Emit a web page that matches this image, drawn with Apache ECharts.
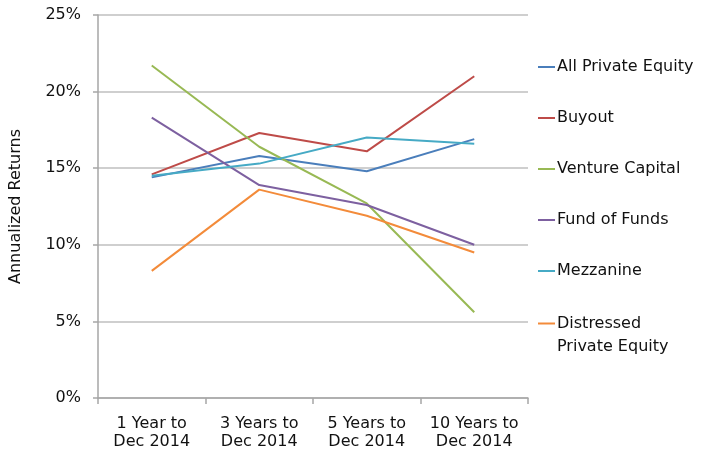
<!DOCTYPE html>
<html>
<head>
<meta charset="utf-8">
<script src="https://cdn.jsdelivr.net/npm/echarts@6/dist/echarts.min.js"></script>
<style>
  html, body { margin: 0; padding: 0; background: #fff; }
  #chart { width: 702px; height: 457px; }
</style>
</head>
<body>
<div id="chart"></div>
<script>
// horizons and annualized returns (%)
const categories = ["1 Year to\nDec 2014", "3 Years to\nDec 2014", "5 Years to\nDec 2014", "10 Years to\nDec 2014"];
const allPrivateEquity = [14.4, 15.8, 14.8, 16.9];
const buyout = [14.6, 17.3, 16.1, 21.0];
const ventureCapital = [21.7, 16.4, 12.7, 5.6];
const fundOfFunds = [18.3, 13.9, 12.6, 10.0];
const mezzanine = [14.5, 15.3, 17.0, 16.6];
const distressed = [8.3, 13.6, 11.9, 9.5];
const yTicks = [0, 5, 10, 15, 20, 25];

const font = "'DejaVu Sans', sans-serif";
const seriesDefs = [
  { name: "All Private Equity", data: allPrivateEquity, color: "#4A7EBB" },
  { name: "Buyout", data: buyout, color: "#BE4B48" },
  { name: "Venture Capital", data: ventureCapital, color: "#98B954" },
  { name: "Fund of Funds", data: fundOfFunds, color: "#7D60A0" },
  { name: "Mezzanine", data: mezzanine, color: "#46AAC5" },
  { name: "Distressed\nPrivate Equity", data: distressed, color: "#F38B3A" },
];

const chart = echarts.init(document.getElementById("chart"), null, { renderer: "canvas" });
chart.setOption({
  animation: false,
  backgroundColor: "#fff",
  textStyle: { fontFamily: font },
  grid: { left: 96, right: 174, top: 15, bottom: 59 },
  legend: [
    {
      orient: "vertical",
      left: 538,
      top: 57,
      padding: 0,
      itemGap: 31,
      itemWidth: 17,
      itemHeight: 2,
      icon: "rect",
      selectedMode: false,
      data: seriesDefs.slice(0, 5).map((s) => s.name),
      textStyle: { color: "#111", fontSize: 16, lineHeight: 20, fontFamily: font, padding: [0, 0, 0, -3] },
    },
    {
      orient: "vertical",
      left: 538,
      top: 289,
      padding: 0,
      itemWidth: 17,
      itemHeight: 2,
      icon: "rect",
      selectedMode: false,
      data: seriesDefs.slice(5).map((s) => s.name),
      formatter: (name) => "\n" + name,
      textStyle: { color: "#111", fontSize: 16, lineHeight: 23, fontFamily: font, padding: [0, 0, 0, -3] },
    },
  ],
  xAxis: {
    type: "category",
    data: categories,
    boundaryGap: true,
    axisLine: { lineStyle: { color: "#A6A6A6", width: 1.5 } },
    axisTick: { show: true, interval: 0, length: 6, lineStyle: { color: "#A6A6A6", width: 1.5 } },
    axisLabel: { interval: 0, color: "#111", fontSize: 16, lineHeight: 18, margin: 17, fontFamily: font },
    splitLine: { show: false },
  },
  yAxis: {
    type: "value",
    min: yTicks[0],
    max: yTicks[yTicks.length - 1],
    interval: yTicks[1] - yTicks[0],
    name: "Annualized Returns",
    nameLocation: "middle",
    nameGap: 74,
    nameTextStyle: { color: "#111", fontSize: 16, fontFamily: font },
    axisLine: { show: true, lineStyle: { color: "#A6A6A6", width: 1.5 } },
    axisTick: { show: true, length: 5, lineStyle: { color: "#A6A6A6", width: 1.5 } },
    axisLabel: { color: "#111", fontSize: 16, margin: 17, formatter: "{value}%", fontFamily: font },
    splitLine: { lineStyle: { color: "#BFBFBF", width: 1.5 } },
  },
  series: seriesDefs.map((s) => ({
    name: s.name,
    type: "line",
    data: s.data,
    symbol: "none",
    color: s.color,
    lineStyle: { color: s.color, width: 2 },
  })),
});
</script>
</body>
</html>
